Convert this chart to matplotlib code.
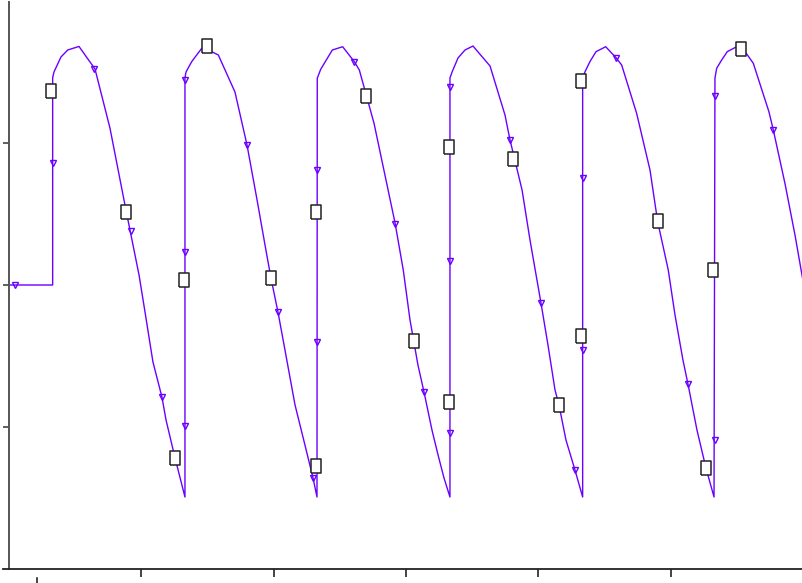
import matplotlib
matplotlib.use("Agg")
import matplotlib.pyplot as plt

# signal trace (x: period units, y: level)
t_vals = [0.000, 0.330,
          0.330, 0.340, 0.393, 0.444, 0.529, 0.650, 0.763, 0.884, 0.983, 1.028, 1.088, 1.156, 1.187, 1.255, 1.330,
          1.330, 1.338, 1.381, 1.457, 1.497, 1.532, 1.582, 1.708, 1.799, 1.875, 1.935, 1.980, 2.033, 2.086, 2.162, 2.237, 2.298, 2.328,
          2.330, 2.356, 2.444, 2.522, 2.610, 2.648, 2.759, 2.918, 2.980, 3.031, 3.091, 3.137, 3.197, 3.243, 3.288, 3.333,
          3.333, 3.349, 3.394, 3.447, 3.507, 3.636, 3.749, 3.787, 3.878, 3.938, 4.021, 4.074, 4.127, 4.157, 4.210, 4.278, 4.336,
          4.336, 4.354, 4.391, 4.437, 4.510, 4.588, 4.631, 4.744, 4.845, 4.903, 4.983, 5.034, 5.094, 5.132, 5.200, 5.268, 5.329,
          5.336, 5.349, 5.387, 5.429, 5.500, 5.533, 5.576, 5.626, 5.744, 5.777, 5.865, 5.941, 5.994, 6.039]
v_vals = [2.000, 2.000,
          3.460, 3.500, 3.606, 3.655, 3.680, 3.521, 3.106, 2.528, 2.070, 1.810, 1.458, 1.211, 1.049, 0.782, 0.507,
          3.458, 3.500, 3.573, 3.667, 3.683, 3.643, 3.620, 3.359, 2.986, 2.599, 2.282, 2.049, 1.810, 1.542, 1.155, 0.873, 0.641, 0.507,
          3.456, 3.519, 3.655, 3.678, 3.573, 3.514, 3.139, 2.437, 2.106, 1.754, 1.437, 1.246, 0.979, 0.803, 0.641, 0.507,
          3.458, 3.500, 3.599, 3.655, 3.683, 3.542, 3.197, 3.021, 2.669, 2.317, 1.873, 1.577, 1.261, 1.155, 0.908, 0.697, 0.507,
          3.458, 3.502, 3.573, 3.643, 3.678, 3.601, 3.549, 3.209, 2.810, 2.446, 2.106, 1.789, 1.472, 1.303, 0.979, 0.711, 0.507,
          3.456, 3.526, 3.585, 3.643, 3.678, 3.669, 3.627, 3.561, 3.220, 3.092, 2.716, 2.352, 2.070, 1.824]

# sample markers (small triangles) along the trace
tri_t = [0.045, 0.330, 0.642, 0.922, 1.156, 1.330, 1.330, 1.330, 1.799, 2.033, 2.298, 2.330, 2.330,
         2.608, 2.918, 3.137, 3.333, 3.333, 3.333, 3.787, 4.021, 4.278, 4.336, 4.336, 4.588, 5.132,
         5.336, 5.336, 5.775]
tri_v = [2.000, 2.859, 3.521, 2.380, 1.211, 3.444, 2.232, 1.007, 2.986, 1.810, 0.641, 2.810, 1.599,
         3.570, 2.430, 1.246, 3.394, 2.169, 0.958, 3.021, 1.873, 0.697, 2.754, 1.542, 3.599, 1.303,
         3.331, 0.908, 3.092]

# event points (boxes)
box_t = [0.317, 0.884, 1.323, 1.255, 1.497, 1.980, 2.320, 2.320, 2.698, 3.061,
         3.323, 3.323, 3.809, 4.157, 4.323, 4.323, 4.906, 5.268, 5.321, 5.533]
box_v = [3.366, 2.514, 2.035, 0.782, 3.683, 2.049, 2.514, 0.725, 3.331, 1.606,
         2.972, 1.176, 2.887, 1.155, 3.437, 1.641, 2.451, 0.711, 2.106, 3.662]

x_ticks = [1, 2, 3, 4, 5]
y_ticks = [1, 2, 3]

col = "#6a00ff"
box = [(-0.38, -0.5), (0.38, -0.5), (0.38, 0.5), (-0.38, 0.5), (-0.38, -0.5)]

fig = plt.figure(figsize=(8.02, 5.83), dpi=100)
ax = fig.add_axes([9 / 802, 14 / 583, 793 / 802, 567 / 583])

ax.plot(t_vals, v_vals, color=col, lw=1.0, zorder=2)
ax.plot(tri_t, tri_v, ls="none", marker="v", ms=5, mfc="none", mec=col, mew=1.0, zorder=3)
ax.plot(box_t, box_v, ls="none", marker=box, ms=9.8, mfc="white", mec="#222222", mew=1.1, zorder=4)

ax.set_xlim(0, 793 / 132.3)
ax.set_ylim(0, 567 / 142)
ax.set_xticks(x_ticks)
ax.set_yticks(y_ticks)
ax.set_xticklabels([])
ax.set_yticklabels([])
ax.tick_params(axis="x", direction="out", length=6, width=1.1, color="#111111")
ax.tick_params(axis="y", direction="out", length=4.5, width=1.1, color="#333333")

for s in ["top", "right"]:
    ax.spines[s].set_visible(False)
ax.spines["left"].set_color("#555555")
ax.spines["left"].set_linewidth(1.4)
ax.spines["bottom"].set_color("#222222")
ax.spines["bottom"].set_linewidth(1.3)

# stray marks below / left of the axes
tr = ax.get_xaxis_transform()
ax.plot([0.212, 0.212], [-0.0159, -0.03], color="#111111", lw=1.1, transform=tr, clip_on=False)
ax.plot([-6 / 793, 0], [0, 0], color="#222222", lw=1.3, transform=ax.transAxes, clip_on=False)

fig.savefig("out.png", dpi=100)
